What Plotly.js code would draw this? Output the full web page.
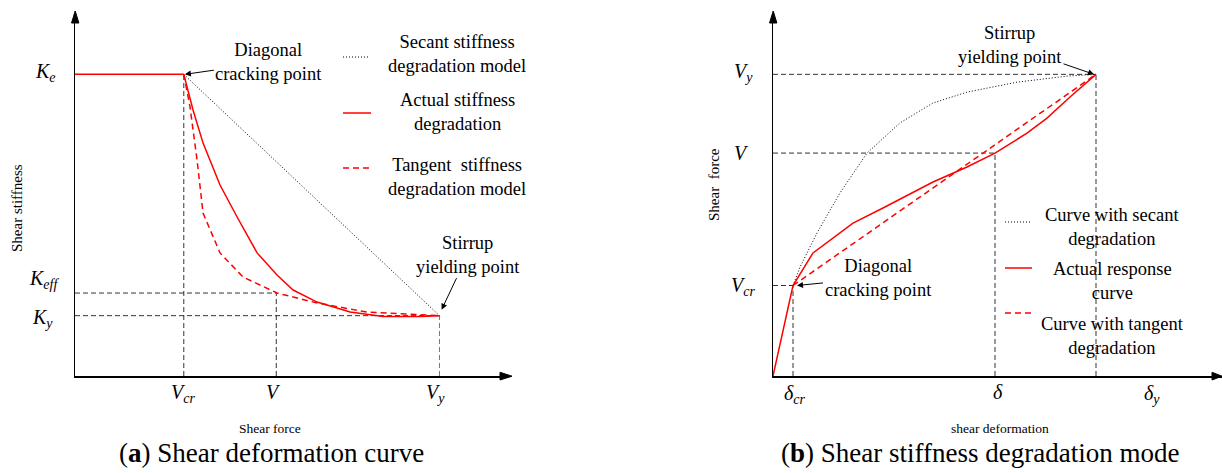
<!DOCTYPE html>
<html>
<head>
<meta charset="utf-8">
<script src="https://cdn.plot.ly/plotly-3.0.1.min.js"></script>
<style>
  html, body { margin: 0; padding: 0; background: #fff; }
  #chart { width: 1222px; height: 473px; }
</style>
</head>
<body>
<div id="chart"></div>
<script>
// ---- (a) stiffness vs. shear force (normalised units) ----
const Vcr = 1.0, Vmid = 1.85, Vy = 3.35;      // shear force marks
const Ke = 1.0, Keff = 0.275, Ky = 0.20;       // stiffness marks

const plateauV = [0, Vcr];
const plateauK = [Ke, Ke];

const actualV = [1.0, 1.085, 1.177, 1.333, 1.49, 1.674, 1.857, 2.005, 2.225, 2.529, 2.832, 3.172, 3.35];
const actualK = [1.0, 0.882, 0.772, 0.633, 0.527, 0.408, 0.335, 0.285, 0.245, 0.212, 0.197, 0.197, 0.20];

const tangentV = [1.0, 1.057, 1.122, 1.177, 1.333, 1.545, 1.857, 2.225, 2.685, 3.35];
const tangentK = [1.0, 0.892, 0.716, 0.540, 0.408, 0.328, 0.275, 0.242, 0.212, 0.20];

const secantV = [Vcr, Vy];
const secantK = [Ke, Ky];

// ---- (b) shear force vs. shear deformation (normalised units) ----
const dCr = 0.20, dMid = 2.22, dY = 3.23;       // deformation marks
const FCr = 0.30, FMid = 0.739, FY = 1.0;       // force marks

const respD = [0, 0.20, 0.40, 0.80, 1.10, 1.60, 1.94, 2.22, 2.54, 2.74, 2.97, 3.23];
const respF = [0, 0.30, 0.408, 0.507, 0.557, 0.643, 0.693, 0.739, 0.805, 0.855, 0.925, 1.0];

const tanD = [0.20, 3.23];
const tanF = [0.30, 1.0];

const secD = [0.20, 0.27, 0.44, 0.67, 0.94, 1.27, 1.60, 1.94, 2.44, 2.94, 3.23];
const secF = [0.30, 0.361, 0.474, 0.607, 0.739, 0.839, 0.905, 0.941, 0.974, 0.994, 1.0];

// ---- labels ----
const legendA = ["Secant stiffness<br>degradation model", "Actual stiffness<br>degradation", "Tangent  stiffness<br>degradation model"];
const legendB = ["Curve with secant<br>degradation", "Actual response<br>curve", "Curve with tangent<br>degradation"];
const captionA = "(<b>a</b>) Shear deformation curve";
const captionB = "(<b>b</b>) Shear stiffness degradation mode";

const W = 1222, H = 473;
const px = v => v / W;            // horizontal pixel -> paper
const py = v => 1 - v / H;        // vertical pixel -> paper

const RED = '#ff0000';
const GUIDE = '#333333';
const SERIF = 'Liberation Serif';

function line(x, y, xa, ya, color, width, dash) {
  return { x, y, xaxis: xa, yaxis: ya, mode: 'lines', hoverinfo: 'skip',
           line: { color, width, dash: dash || 'solid' } };
}

const traces = [
  // guide lines (a)
  line([Vcr, Vcr], [0, Ke], 'x', 'y', GUIDE, 1, '5px,3px'),
  line([0, Vmid], [Keff, Keff], 'x', 'y', GUIDE, 1, '5px,3px'),
  line([Vmid, Vmid], [0, Keff], 'x', 'y', GUIDE, 1, '5px,3px'),
  line([0, Vy], [Ky, Ky], 'x', 'y', GUIDE, 1, '5px,3px'),
  line([Vy, Vy], [0, Ky], 'x', 'y', '#777777', 1, '5px,3px'),
  // curves (a)
  line(secantV, secantK, 'x', 'y', '#000000', 1, '1px,2px'),
  line(tangentV, tangentK, 'x', 'y', RED, 1.5, '6px,4px'),
  line(plateauV, plateauK, 'x', 'y', RED, 1.5),
  line(actualV, actualK, 'x', 'y', RED, 1.5),

  // guide lines (b)
  line([0, dY], [FY, FY], 'x2', 'y2', GUIDE, 1, '5px,3px'),
  line([dY, dY], [0, FY], 'x2', 'y2', GUIDE, 1, '5px,3px'),
  line([0, dMid], [FMid, FMid], 'x2', 'y2', GUIDE, 1, '5px,3px'),
  line([dMid, dMid], [0, FMid], 'x2', 'y2', GUIDE, 1, '5px,3px'),
  line([0, dCr], [FCr, FCr], 'x2', 'y2', GUIDE, 1, '5px,3px'),
  line([dCr, dCr], [0, FCr], 'x2', 'y2', GUIDE, 1, '5px,3px'),
  // curves (b)
  line(secD, secF, 'x2', 'y2', '#000000', 1, '1px,2px'),
  line(tanD, tanF, 'x2', 'y2', RED, 1.5, '6px,4px'),
  line(respD, respF, 'x2', 'y2', RED, 1.5)
];

const axisBase = {
  showline: true, linecolor: '#000', linewidth: 1.5, mirror: false,
  showgrid: false, zeroline: false, showticklabels: false, ticks: '', fixedrange: true
};

const ann = [];
function txt(text, x, y, size, opts) {
  ann.push(Object.assign({
    text, x: px(x), y: py(y), xref: 'paper', yref: 'paper', showarrow: false,
    xanchor: 'center', yanchor: 'middle',
    font: { family: SERIF, size, color: '#000' }
  }, opts || {}));
}
function arrowTo(xa, ya, hx, hy, ax, ay, text) {
  ann.push({
    text, x: hx, y: hy, xref: xa, yref: ya, ax, ay, axref: 'pixel', ayref: 'pixel',
    showarrow: true, arrowhead: 2, arrowsize: 1.2, arrowwidth: 1, arrowcolor: '#000',
    font: { family: SERIF, size: 18.5, color: '#000' }, align: 'center'
  });
}

// pointing labels
arrowTo('x', 'y', Vcr + 0.01, Ke, 84, -12, 'Diagonal<br>cracking point');
arrowTo('x', 'y', Vy + 0.02, Ky + 0.02, 26, -55, 'Stirrup<br>yielding point');
arrowTo('x2', 'y2', dY - 0.02, FY, -84, -29, 'Stirrup<br>yielding point');
arrowTo('x2', 'y2', dCr + 0.04, FCr, 81, -8, 'Diagonal<br>cracking point');

// tick-style labels (a)
const ital = (m, s) => '<i>' + m + '</i>' + (s ? '<sub><i>' + s + '</i></sub>' : '');
txt(ital('K', 'e'), 45, 73, 20);
txt(ital('K', 'eff'), 44, 279, 20);
txt(ital('K', 'y'), 42, 318, 20);
txt(ital('V', 'cr'), 183, 393, 20);
txt(ital('V'), 273, 392, 20);
txt(ital('V', 'y'), 435, 393, 20);

// tick-style labels (b)
txt(ital('V', 'y'), 743, 73, 20);
txt(ital('V'), 741, 153, 20);
txt(ital('V', 'cr'), 743, 286, 20);
txt(ital('&#948;', 'cr'), 795, 394, 20);
txt(ital('&#948;'), 998, 392, 20);
txt(ital('&#948;', 'y'), 1152, 394, 20);

// axis titles
txt('Shear stiffness', 17, 208, 15, { textangle: -90 });
txt('Shear force', 270, 428, 13.5);
txt('Shear  force', 714, 185, 15, { textangle: -90 });
txt('shear deformation', 1000, 428, 13.5);

// legends
const legAy = [54, 112, 177];
legendA.forEach((t, i) => txt(t, 457, legAy[i], 18.5));
const legBy = [227, 281, 336];
legendB.forEach((t, i) => txt(t, 1112, legBy[i], 18.5));

// captions
txt(captionA, 271, 453, 27);
txt(captionB, 980, 453, 27);

// legend sample strokes and axis arrowheads
const shapes = [];
function sample(x0, x1, y, color, width, dash) {
  shapes.push({ type: 'line', xref: 'paper', yref: 'paper',
    x0: px(x0), x1: px(x1), y0: py(y), y1: py(y),
    line: { color, width, dash } });
}
sample(343, 370, 57, '#000', 1, '1px,2px');
sample(343, 371, 113, RED, 1.5, 'solid');
sample(343, 373, 168, RED, 1.5, '6px,4px');
sample(1005, 1030, 222, '#000', 1, '1px,2px');
sample(1005, 1032, 268, RED, 1.5, 'solid');
sample(1005, 1032, 313, RED, 1.5, '6px,4px');

function head(pts) {
  const d = pts.map((p, i) => (i ? 'L ' : 'M ') + px(p[0]) + ',' + py(p[1])).join(' ') + ' Z';
  shapes.push({ type: 'path', xref: 'paper', yref: 'paper', path: d,
    fillcolor: '#000', line: { color: '#000', width: 1 } });
}
head([[71.5, 23], [75.2, 11], [78.9, 23]]);       // (a) vertical axis
head([[500, 372.3], [512, 376.2], [500, 380]]);   // (a) horizontal axis
head([[769.5, 23], [773.2, 11], [776.9, 23]]);    // (b) vertical axis
head([[1212, 372.3], [1222, 376.2], [1212, 380]]);// (b) horizontal axis

const layout = {
  width: W, height: H,
  margin: { l: 0, r: 0, t: 0, b: 0 },
  paper_bgcolor: '#fff', plot_bgcolor: 'rgba(0,0,0,0)',
  showlegend: false,
  xaxis: Object.assign({}, axisBase, { domain: [px(75), px(508)], range: [0, 3.98], anchor: 'y' }),
  yaxis: Object.assign({}, axisBase, { domain: [py(376), py(14)], range: [0, 1.2], anchor: 'x' }),
  xaxis2: Object.assign({}, axisBase, { domain: [px(773), 1], range: [0, 4.49], anchor: 'y2' }),
  yaxis2: Object.assign({}, axisBase, { domain: [py(376), py(14)], range: [0, 1.2], anchor: 'x2' }),
  annotations: ann,
  shapes
};

Plotly.newPlot('chart', traces, layout, { staticPlot: true, displayModeBar: false });
</script>
</body>
</html>
